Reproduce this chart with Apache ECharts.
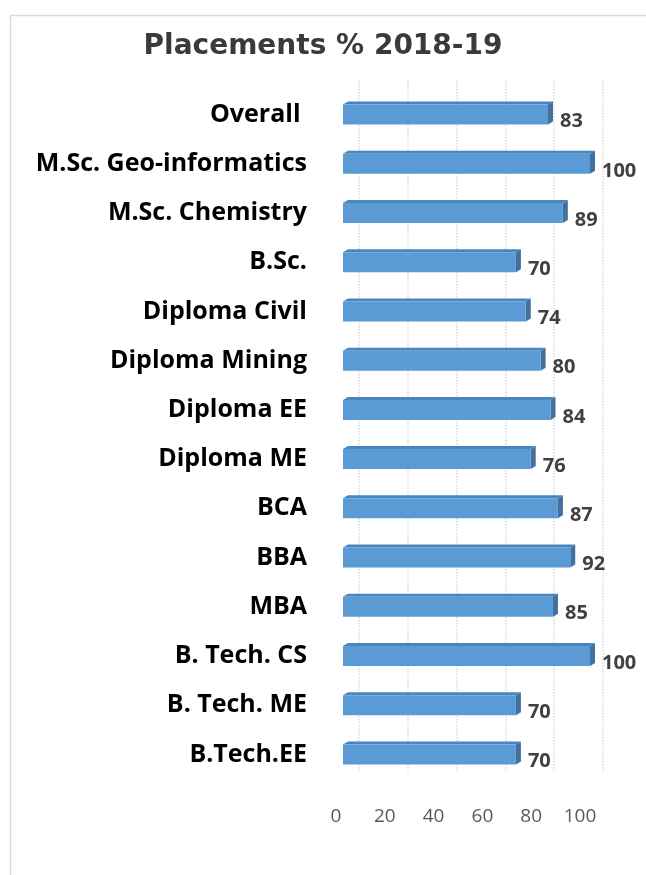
<!DOCTYPE html>
<html>
<head>
<meta charset="utf-8">
<script src="https://cdn.jsdelivr.net/npm/echarts@6/dist/echarts.min.js"></script>
<style>
  html, body { margin: 0; padding: 0; background: #fff; }
  #chart { width: 646px; height: 875px; }
</style>
</head>
<body>
<div id="chart"></div>
<script>
// categories from top to bottom, as shown
var categories = ['Overall ', 'M.Sc. Geo-informatics', 'M.Sc. Chemistry', 'B.Sc.', 'Diploma Civil',
	'Diploma Mining', 'Diploma EE', 'Diploma ME', 'BCA', 'BBA', 'MBA', 'B. Tech. CS', 'B. Tech. ME', 'B.Tech.EE'];
var placements = [83, 100, 89, 70, 74, 80, 84, 76, 87, 92, 85, 100, 70, 70];
var tickLabels = ['0', '20', '40', '60', '80', '100'];

var chart = echarts.init(document.getElementById('chart'));

// draws the darker right side and top rim to get the excel 3d look
function renderSide(params, api) {
	var end = api.coord([api.value(1), api.value(0)]);
	var start = api.coord([0, api.value(0)]);
	var h = 20;
	var top = end[1] - h / 2;
	return {
		type: 'group',
		children: [
			{
				type: 'polygon',
				shape: { points: [[end[0], top], [end[0] + 5, top - 3], [end[0] + 5, top + h - 3], [end[0], top + h]] },
				style: { fill: '#41719c' }
			},
			{
				type: 'polygon',
				shape: { points: [[start[0], top], [start[0] + 5, top - 3], [end[0] + 5, top - 3], [end[0], top]] },
				style: { fill: '#4a85bd' }
			}
		]
	};
}

var option = {
	animation: false,
	backgroundColor: '#fff',
	title: {
		text: 'Placements % 2018-19',
		left: 'center',
		top: 28,
		textStyle: { fontFamily: 'DejaVu Sans', fontSize: 28, fontWeight: 'bold', color: '#3a3a3a' }
	},
	graphic: [{
		type: 'rect',
		shape: { x: 10.5, y: 15.5, width: 700, height: 900 },
		style: { fill: null, stroke: '#d9d9d9', lineWidth: 1.5 },
		silent: true
	}],
	grid: [
		{ left: 343, width: 247, top: 90, bottom: 96 },
		{ left: 359, width: 244, top: 80, bottom: 104 },
		{ left: 336, width: 244, top: 90, bottom: 96 }
	],
	xAxis: [
		{
			gridIndex: 0, type: 'value', min: 0, max: 100, interval: 20,
			axisLine: { show: false }, axisTick: { show: false }, axisLabel: { show: false }, splitLine: { show: false }
		},
		{
			gridIndex: 1, type: 'value', min: 0, max: 100, interval: 20,
			axisLine: { show: false }, axisTick: { show: false }, axisLabel: { show: false },
			splitLine: { show: true, lineStyle: { color: '#d9d9d9', type: 'dotted', width: 1.5 } }
		},
		{
			gridIndex: 2, type: 'value', min: 0, max: 100, interval: 20,
			axisLine: { show: false }, axisTick: { show: false }, splitLine: { show: false },
			axisLabel: {
				margin: 28, fontFamily: 'Open Sans', fontSize: 19, color: '#595959',
				formatter: function (v) { return tickLabels[v / 20]; }
			}
		}
	],
	yAxis: [
		{
			gridIndex: 0, type: 'category', inverse: true, data: categories,
			axisLine: { show: false }, axisTick: { show: false },
			axisLabel: { margin: 36, fontFamily: 'Open Sans', fontWeight: 'bold', fontSize: 25, color: '#000' }
		},
		{ gridIndex: 1, type: 'category', inverse: true, data: categories, show: false },
		{ gridIndex: 2, type: 'category', inverse: true, data: categories, show: false }
	],
	series: [
		{
			type: 'bar',
			xAxisIndex: 0, yAxisIndex: 0,
			data: placements,
			barWidth: 20,
			itemStyle: { color: '#5b9bd5' },
			label: {
				show: true, position: 'right', distance: 12, offset: [0, 7],
				fontFamily: 'Open Sans', fontWeight: 'bold', fontSize: 20, color: '#404040'
			}
		},
		{
			type: 'custom',
			xAxisIndex: 0, yAxisIndex: 0,
			renderItem: renderSide,
			data: placements.map(function (v, i) { return [i, v]; }),
			encode: { x: 1, y: 0 },
			silent: true
		}
	]
};
chart.setOption(option);
</script>
</body>
</html>
